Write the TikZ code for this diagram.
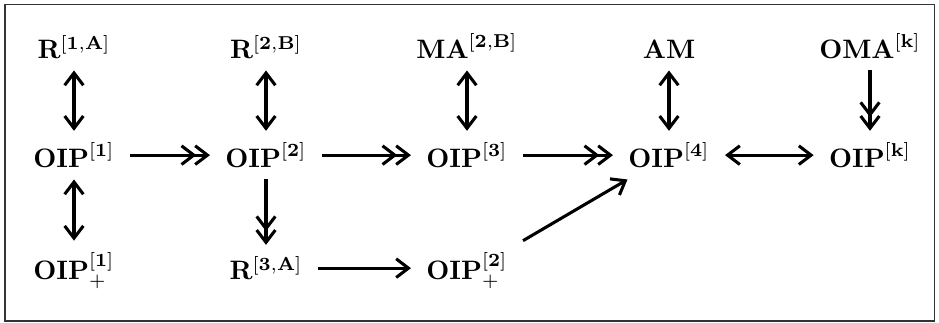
\documentclass[tikz,border=0pt]{standalone}
\usepackage{amsmath}
\usetikzlibrary{arrows.meta}
\tikzset{
  lbl/.style={anchor=base, inner xsep=5.6pt, inner ysep=4.1pt},
  conn/.style={line width=1.15pt},
  both/.style={conn, {Straight Barb[length=4.6pt,width=7pt]}-{Straight Barb[length=4.6pt,width=7pt]}},
  dbl/.style={conn, -{Straight Barb[length=4.6pt,width=7pt,sep=-1pt]Straight Barb[length=4.6pt,width=7pt]}},
  sgl/.style={conn, -{Straight Barb[length=4.6pt,width=7pt]}}
}
\begin{document}
\begin{tikzpicture}[x=0.375pt, y=-0.375pt]
\useasboundingbox (0,0) rectangle (939,323);
\draw[line width=0.45pt, black!80] (5,4.5) rectangle (934.5,321);
% top row
\node[lbl] (r1) at (74,59) {$\mathbf{R}^{[\mathbf{1},\mathbf{A}]}$};
\node[lbl] (r2) at (266,59) {$\mathbf{R}^{[\mathbf{2},\mathbf{B}]}$};
\node[lbl] (ma) at (467,59) {$\mathbf{MA}^{[\mathbf{2},\mathbf{B}]}$};
\node[lbl] (am) at (669,59) {$\mathbf{AM}$};
\node[lbl] (oma) at (870,59) {$\mathbf{OMA}^{[\mathbf{k}]}$};
% middle row
\node[lbl] (o1) at (74,168) {$\mathbf{OIP}^{[\mathbf{1}]}$};
\node[lbl] (o2) at (266,168) {$\mathbf{OIP}^{[\mathbf{2}]}$};
\node[lbl] (o3) at (467,168) {$\mathbf{OIP}^{[\mathbf{3}]}$};
\node[lbl] (o4) at (669,168) {$\mathbf{OIP}^{[\mathbf{4}]}$};
\node[lbl] (ok) at (870,168) {$\mathbf{OIP}^{[\mathbf{k}]}$};
% bottom row
\node[lbl] (p1) at (74,280) {$\mathbf{OIP}_{+}^{[\mathbf{1}]}$};
\node[lbl] (r3) at (266,280) {$\mathbf{R}^{[\mathbf{3},\mathbf{A}]}$};
\node[lbl] (p2) at (467,280) {$\mathbf{OIP}_{+}^{[\mathbf{2}]}$};
% connectors
\draw[both] (r1) -- (o1);
\draw[both] (o1) -- (p1);
\draw[both] (r2) -- (o2);
\draw[dbl] (o2) -- (r3);
\draw[both] (ma) -- (o3);
\draw[both] (am) -- (o4);
\draw[dbl] (oma) -- (ok);
\draw[dbl] (o1) -- (o2);
\draw[dbl] (o2) -- (o3);
\draw[dbl] (o3) -- (o4);
\draw[both] (o4) -- (ok);
\draw[sgl] (r3.east) -- (r3.east -| p2.west);
\draw[sgl] (p2.north east) -- (o4);
\end{tikzpicture}
\end{document}
